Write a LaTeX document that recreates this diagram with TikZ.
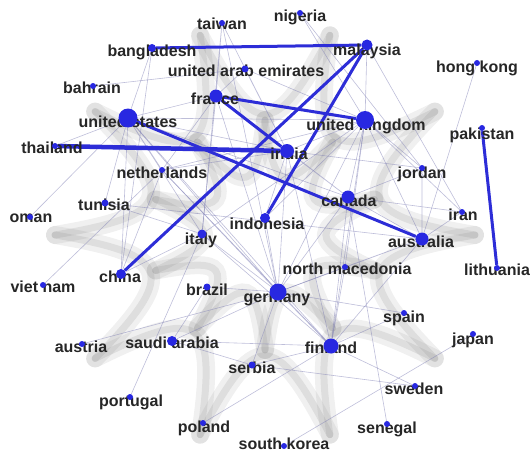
\documentclass[tikz,border=0pt]{standalone}
\usepackage{fontspec}
\setmainfont{Liberation Sans}
\usetikzlibrary{backgrounds}
\definecolor{netblue}{RGB}{40,40,225}
\definecolor{linkblue}{RGB}{45,45,215}
\definecolor{faint}{RGB}{125,125,180}

\begin{document}
\begin{tikzpicture}[x=1pt, y=-1pt]
    \useasboundingbox (0,0) rectangle (530,452);
    \tikzstyle{web}=[gray, opacity=0.12, line width=18pt, line cap=round]
    \tikzstyle{webcore}=[gray, opacity=0.16, line width=7pt, line cap=round]

    % grey web behind the graph
    \begin{scope}[on background layer, shift={(265,235)}]
    \foreach \a in {0,36,...,324} {
        \draw[web] (\a:210) .. controls (\a+12:95) and (\a+24:95) .. (\a+36:210);
        \draw[webcore] (\a:210) .. controls (\a+12:95) and (\a+24:95) .. (\a+36:210);
        \draw[web] (\a+18:115) .. controls (\a+30:45) and (\a+42:45) .. (\a+54:115);
        \draw[webcore] (\a+18:115) .. controls (\a+30:45) and (\a+42:45) .. (\a+54:115);
    }
    \end{scope}

    \tikzstyle{every node}=[anchor=base, inner sep=0pt, text=black!85, font=\fontsize{16}{18}\selectfont\bfseries]
    \node (tw-l) at (222,30) {taiwan};
    \node (ng-l) at (300,22) {nigeria};
    \node (bd-l) at (152,57) {bangladesh};
    \node (my-l) at (367,56) {malaysia};
    \node (ae-l) at (246,77) {united arab emirates};
    \node (hk-l) at (477,73) {hong kong};
    \node (bh-l) at (92,93) {bahrain};
    \node (fr-l) at (215,104) {france};
    \node (us-l) at (128,127) {united states};
    \node (uk-l) at (366,130) {united kingdom};
    \node (pk-l) at (482,139) {pakistan};
    \node (th-l) at (52,153) {thailand};
    \node (ind-l) at (289,159) {india};
    \node (nl-l) at (162,178) {netherlands};
    \node (jo-l) at (422,178) {jordan};
    \node (tn-l) at (104,210) {tunisia};
    \node (ca-l) at (349,206) {canada};
    \node (om-l) at (31,222) {oman};
    \node (ir-l) at (463,220) {iran};
    \node (idn-l) at (267,229) {indonesia};
    \node (au-l) at (421,247) {australia};
    \node (it-l) at (201,244) {italy};
    \node (mk-l) at (347,274) {north macedonia};
    \node (lt-l) at (497,275) {lithuania};
    \node (cn-l) at (120,282) {china};
    \node (vn-l) at (43,292) {viet nam};
    \node (br-l) at (207,295) {brazil};
    \node (de-l) at (277,302) {germany};
    \node (es-l) at (404,322) {spain};
    \node (jp-l) at (473,344) {japan};
    \node (aut-l) at (81,352) {austria};
    \node (sa-l) at (172,348) {saudi arabia};
    \node (fi-l) at (331,353) {finland};
    \node (rs-l) at (252,373) {serbia};
    \node (se-l) at (414,394) {sweden};
    \node (pt-l) at (131,406) {portugal};
    \node (sn-l) at (387,433) {senegal};
    \node (pl-l) at (204,432) {poland};
    \node (kr-l) at (284,449) {south korea};

    \tikzstyle{every node}=[circle, fill=netblue, inner sep=0pt, minimum size=6pt]
    \node (tw) at (222,23) {};
    \node (ng) at (300,13) {};
    \node[minimum size=8pt] (bd) at (152,48) {};
    \node[minimum size=11pt] (my) at (367,45) {};
    \node[minimum size=7pt] (ae) at (245,69) {};
    \node (hk) at (477,63) {};
    \node (bh) at (93,86) {};
    \node[minimum size=13pt] (fr) at (216,96) {};
    \node[minimum size=19pt] (us) at (128,118) {};
    \node[minimum size=18pt] (uk) at (365,120) {};
    \node (pk) at (482,128) {};
    \node (th) at (55,146) {};
    \node[minimum size=14pt] (ind) at (287,151) {};
    \node (nl) at (162,170) {};
    \node (jo) at (422,168) {};
    \node[minimum size=7pt] (tn) at (105,203) {};
    \node[minimum size=13pt] (ca) at (348,197) {};
    \node (om) at (30,217) {};
    \node (ir) at (462,212) {};
    \node[minimum size=10pt] (idn) at (265,218) {};
    \node[minimum size=13pt] (au) at (422,239) {};
    \node[minimum size=9pt] (it) at (202,234) {};
    \node (mk) at (345,267) {};
    \node (lt) at (497,268) {};
    \node[minimum size=10pt] (cn) at (121,274) {};
    \node (vn) at (43,285) {};
    \node[minimum size=7pt] (br) at (207,287) {};
    \node[minimum size=17pt] (de) at (278,292) {};
    \node (es) at (404,313) {};
    \node (jp) at (473,334) {};
    \node (aut) at (82,344) {};
    \node[minimum size=10pt] (sa) at (172,341) {};
    \node[minimum size=15pt] (fi) at (331,346) {};
    \node[minimum size=7pt] (rs) at (252,365) {};
    \node (se) at (415,386) {};
    \node (pt) at (130,397) {};
    \node (sn) at (387,424) {};
    \node (pl) at (203,423) {};
    \node (kr) at (284,446) {};

    \begin{scope}[on background layer]
    \tikzstyle{edge}=[faint, opacity=0.5, line width=0.6pt]
    \draw[edge] (us) -- (uk) -- (ng);
    \draw[edge] (bd) -- (us) -- (fr) -- (nl) -- (us) -- (tn) -- (it) -- (us) -- (cn) -- (bd);
    \draw[edge] (om) -- (us) -- (de) -- (fr) -- (tw) -- (it) -- (de) -- (tw);
    \draw[edge] (us) -- (fi) -- (ind) -- (us) -- (ca) -- (fi) -- (au) -- (ca) -- (sn);
    \draw[edge] (uk) -- (my) -- (ir) -- (uk) -- (jo) -- (au) -- (uk) -- (ca) -- (ir);
    \draw[edge] (uk) -- (idn) -- (ind) -- (uk) -- (it) -- (fi) -- (uk) -- (de) -- (nl) -- (uk);
    \draw[edge] (uk) -- (mk) -- (de) -- (br) -- (sa) -- (de) -- (aut);
    \draw[edge] (de) -- (ind) -- (nl) -- (fi) -- (es) -- (de) -- (ca) -- (ind) -- (jo) -- (ca) -- (fr);
    \draw[edge] (de) -- (au) -- (mk) -- (fi) -- (se) -- (rs) -- (fi) -- (pl);
    \draw[edge] (de) -- (rs) -- (sa) -- (fi) -- (de) -- (idn);
    \draw[edge] (ae) -- (ind) -- (tw);
    \draw[edge] (bh) -- (ae) -- (uk);
    \draw[edge] (fr) -- (ae);
    \draw[edge] (fr) -- (it) -- (cn) -- (nl) -- (vn);
    \draw[edge] (ng) -- (jo);
    \draw[edge] (hk) -- (au) -- (ir);
    \draw[edge] (tn) -- (au);
    \draw[edge] (jp) -- (kr);
    \draw[edge] (pt) -- (it);
    \draw[edge] (th) -- (us);

    \tikzstyle{edge}=[linkblue, line width=3pt]
    \draw[edge] (bd) -- (my) -- (cn);
    \draw[edge] (my) -- (idn);
    \draw[edge] (uk) -- (fr) -- (ind);
    \draw[edge] (us) -- (au);
    \draw[edge] (pk) -- (lt);
    \draw[edge, line width=4.5pt] (th) -- (ind);
    \end{scope}
\end{tikzpicture}
\end{document}
